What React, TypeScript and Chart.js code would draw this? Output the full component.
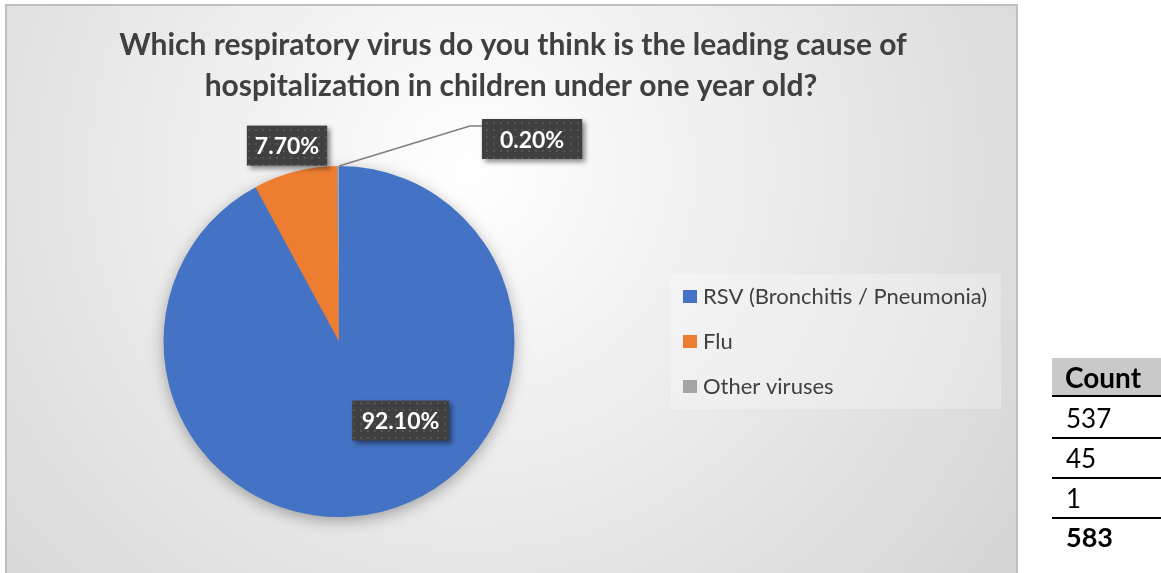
import React, { useEffect, useRef } from "react";
import { Chart, registerables } from "chart.js";

Chart.register(...registerables);

// ---------- data ----------
const categories = ["RSV (Bronchitis / Pneumonia)", "Flu", "Other viruses"];
const counts = [537, 45, 1];
const percentLabels = ["92.10%", "7.70%", "0.20%"];
const totalCount = 583;
const colors = ["#4472C4", "#ED7D31", "#A5A5A5"];
const titleLines = [
  "Which respiratory virus do you think is the leading cause of",
  "hospitalization in children under one year old?",
];
const tableHeader = "Count";

// ---------- styling ----------
const FONT = "Lato, 'Open Sans', sans-serif";
const W = 1161;
const H = 573;
const FRAME = { l: 6, t: 5, r: 1017, b: 573 };
// label anchor: "center" = slice centroid, "edge" = slice outer midpoint; plus pixel offset and box padding
const labelStyle = [
  { anchor: "center", dx: 40, dy: -6, leader: false, pad: 19 },
  { anchor: "edge", dx: -8, dy: -26, leader: false, pad: 16 },
  { anchor: "edge", dx: 194, dy: -27, leader: true, pad: 36 },
];

let patternCache: CanvasPattern | null = null;
function getPattern(ctx: CanvasRenderingContext2D) {
  if (patternCache) return patternCache;
  const c = document.createElement("canvas");
  c.width = 7;
  c.height = 7;
  const p = c.getContext("2d")!;
  p.fillStyle = "#404040";
  p.fillRect(0, 0, 7, 7);
  p.fillStyle = "#555555";
  p.fillRect(3, 3, 2, 2);
  patternCache = ctx.createPattern(c, "repeat");
  return patternCache;
}

const decorPlugin = {
  id: "decor",
  beforeDraw(chart: any) {
    const ctx: CanvasRenderingContext2D = chart.ctx;
    ctx.save();
    // frame background
    const g = ctx.createRadialGradient(470, 170, 0, 470, 170, 720);
    g.addColorStop(0, "#ffffff");
    g.addColorStop(1, "#d2d2d2");
    ctx.fillStyle = g;
    ctx.fillRect(FRAME.l, FRAME.t, FRAME.r - FRAME.l, FRAME.b - FRAME.t);
    ctx.strokeStyle = "#bfbfbf";
    ctx.lineWidth = 2;
    ctx.strokeRect(FRAME.l, FRAME.t, FRAME.r - FRAME.l, FRAME.b - FRAME.t + 4);

    // title
    ctx.fillStyle = "#404040";
    ctx.font = `bold 30px ${FONT}`;
    ctx.textAlign = "center";
    ctx.textBaseline = "alphabetic";
    ctx.fillText(titleLines[0], 513, 55);
    ctx.fillText(titleLines[1], 511, 96);

    // legend
    ctx.fillStyle = "rgba(255,255,255,0.28)";
    ctx.fillRect(671, 274, 330, 135);
    ctx.font = `22px ${FONT}`;
    ctx.textAlign = "left";
    categories.forEach((name, i) => {
      const cy = 296.5 + i * 45;
      ctx.fillStyle = colors[i];
      ctx.fillRect(683, cy - 6.5, 14, 13);
      ctx.fillStyle = "#404040";
      ctx.fillText(name, 703, cy + 7.5);
    });
    ctx.restore();
  },
  beforeDatasetsDraw(chart: any) {
    const ctx: CanvasRenderingContext2D = chart.ctx;
    const arc = chart.getDatasetMeta(0).data[0];
    if (!arc) return;
    ctx.save();
    ctx.shadowColor = "rgba(0,0,0,0.35)";
    ctx.shadowBlur = 16;
    ctx.shadowOffsetY = 4;
    ctx.beginPath();
    ctx.arc(arc.x, arc.y, arc.outerRadius - 1, 0, Math.PI * 2);
    ctx.fillStyle = colors[0];
    ctx.fill();
    ctx.restore();
  },
  afterDatasetsDraw(chart: any) {
    const ctx: CanvasRenderingContext2D = chart.ctx;
    const arcs = chart.getDatasetMeta(0).data;
    ctx.save();
    ctx.font = `bold 23px ${FONT}`;
    arcs.forEach((arc: any, i: number) => {
      const st = labelStyle[i];
      const mid = (arc.startAngle + arc.endAngle) / 2;
      const r = st.anchor === "center" ? (arc.innerRadius + arc.outerRadius) / 2 : arc.outerRadius;
      const ax = arc.x + Math.cos(mid) * r;
      const ay = arc.y + Math.sin(mid) * r;
      const cx = ax + st.dx;
      const cy = ay + st.dy;
      const text = percentLabels[i];
      const tw = ctx.measureText(text).width;
      const bw = tw + st.pad;
      const bh = 40;
      const bx = cx - bw / 2;
      const by = cy - bh / 2;
      if (st.leader) {
        ctx.strokeStyle = "#7f7f7f";
        ctx.lineWidth = 1.5;
        ctx.beginPath();
        ctx.moveTo(arc.x + Math.cos(arc.endAngle) * arc.outerRadius, ay);
        ctx.lineTo(bx - 12, by + 7);
        ctx.lineTo(bx, by + 7);
        ctx.stroke();
      }
      ctx.save();
      ctx.shadowColor = "rgba(0,0,0,0.45)";
      ctx.shadowBlur = 5;
      ctx.shadowOffsetX = 3;
      ctx.shadowOffsetY = 3;
      ctx.fillStyle = getPattern(ctx) || "#404040";
      ctx.fillRect(bx, by, bw, bh);
      ctx.restore();
      ctx.fillStyle = "#ffffff";
      ctx.textAlign = "center";
      ctx.textBaseline = "alphabetic";
      ctx.fillText(text, cx, cy + 8.5);
    });
    ctx.restore();
  },
};

export default function App() {
  const ref = useRef<HTMLCanvasElement>(null);
  useEffect(() => {
    document.body.style.margin = "0";
    const chart = new Chart(ref.current!, {
      type: "pie",
      data: {
        labels: categories,
        datasets: [
          {
            data: counts,
            backgroundColor: colors,
            borderWidth: 0,
          },
        ],
      },
      options: {
        responsive: false,
        animation: false,
        devicePixelRatio: 1,
        layout: { padding: { left: 163, top: 166, right: 646, bottom: 56 } },
        plugins: { legend: { display: false }, tooltip: { enabled: false }, title: { display: false } },
      },
      plugins: [decorPlugin],
    });
    return () => chart.destroy();
  }, []);

  const rowBaselines = [428, 468, 508, 547];
  const lineYs = [395, 436.5, 476.5, 516.5];
  const cellText = [...counts.map(String), String(totalCount)];
  return (
    <div style={{ position: "absolute", left: 0, top: 0, width: W, height: H, background: "#fff", overflow: "hidden" }}>
      <canvas ref={ref} width={W} height={H} style={{ position: "absolute", left: 0, top: 0, width: W, height: H }} />
      <div style={{ position: "absolute", left: 1052, top: 358, width: 109, height: 37, background: "#c9c9c9" }} />
      <div
        style={{
          position: "absolute",
          left: 1065,
          top: 388 - 0.887 * 28,
          font: `bold 28px ${FONT}`,
          lineHeight: "28px",
          color: "#000",
          whiteSpace: "nowrap",
        }}
      >
        {tableHeader}
      </div>
      {lineYs.map((y, i) => (
        <div key={"l" + i} style={{ position: "absolute", left: 1052, top: y, width: 109, height: 2, background: "#000" }} />
      ))}
      {cellText.map((t, i) => {
        const isTotal = i === cellText.length - 1;
        const fs = isTotal ? 27 : 26;
        return (
          <div
            key={"c" + i}
            style={{
              position: "absolute",
              left: 1066,
              top: rowBaselines[i] - 0.887 * fs,
              font: `${isTotal ? "bold " : ""}${fs}px ${FONT}`,
              lineHeight: `${fs}px`,
              color: "#000",
              whiteSpace: "nowrap",
            }}
          >
            {t}
          </div>
        );
      })}
    </div>
  );
}
